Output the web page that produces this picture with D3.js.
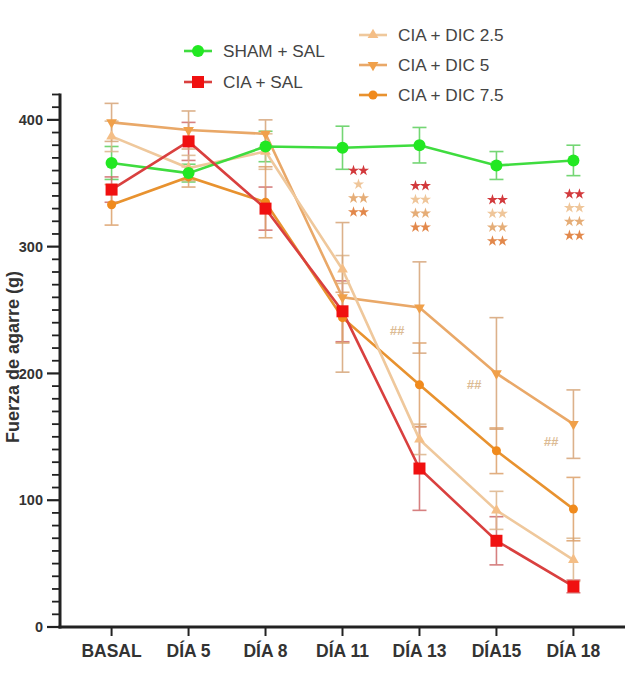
<!DOCTYPE html>
<html>
<head>
<meta charset="utf-8">
<script src="https://cdn.jsdelivr.net/npm/d3@7"></script>
<style>
  html, body { margin: 0; padding: 0; background: #fff; }
  svg { display: block; }
</style>
</head>
<body>
<svg id="chart" width="626" height="677"></svg>
<script>
// Time points
const categories = ["BASAL", "DÍA 5", "DÍA 8", "DÍA 11", "DÍA 13", "DÍA15", "DÍA 18"];

// Grip strength means (g) and SEM per group
const shamSal    = [366, 358, 379, 378, 380, 364, 368];
const shamSalErr = [13, 7, 12, 17, 14, 11, 12];
const ciaSal     = [345, 383, 330, 249, 125, 68, 32];
const ciaSalErr  = [10, 15, 17, 24, 33, 19, 5];
const dic25      = [387, 362, 375, 282, 148, 92, 53];
const dic25Err   = [12, 10, 14, 11, 12, 15, 17];
const dic5       = [398, 392, 389, 260, 252, 200, 160];
const dic5Err    = [15, 15, 11, 59, 36, 44, 27];
const dic75      = [333, 355, 335, 244, 191, 139, 93];
const dic75Err   = [16, 8, 28, 20, 33, 18, 25];

// Y axis ticks
const yMajorTicks = [0, 100, 200, 300, 400];

// Significance marks (rows of stars under each day; level = top row in g)
const starDays   = ["DÍA 11", "DÍA 13", "DÍA15", "DÍA 18"];
const starLevels = [360, 348, 337, 341.5];
const starCounts = [[2, 1, 2, 2], [2, 2, 2, 2], [2, 2, 2, 2], [2, 2, 2, 2]];
// "##" marks: [between days, value]
const hashMarks = [["DÍA 11", "DÍA 13", 234], ["DÍA 13", "DÍA15", 191.5], ["DÍA15", "DÍA 18", 146]];

const series = [
  { name: "SHAM + SAL",   values: shamSal, err: shamSalErr, line: "#3fdc3f", fill: "#22e822", errColor: "#5ccf5c", symbol: "circle", size: 12 },
  { name: "CIA + SAL",    values: ciaSal,  err: ciaSalErr,  line: "#d9403f", fill: "#f01010", errColor: "#cf6a6a", symbol: "square", size: 12 },
  { name: "CIA + DIC 2.5", values: dic25,  err: dic25Err,   line: "#efc89c", fill: "#f4be86", errColor: "#dcb48a", symbol: "triUp", size: 10 },
  { name: "CIA + DIC 5",  values: dic5,    err: dic5Err,    line: "#e9a868", fill: "#f0a04a", errColor: "#d6a477", symbol: "triDown", size: 10 },
  { name: "CIA + DIC 7.5", values: dic75,  err: dic75Err,   line: "#e8922f", fill: "#f08a1c", errColor: "#dca06a", symbol: "circle", size: 9 }
];
const starColors = ["#d2393c", "#efc69a", "#e5ad77", "#e2884b"];

const svg = d3.select("#chart");
const x = d3.scalePoint().domain(categories).range([60, 625]).padding(0.67);
const y = d3.scaleLinear().domain([0, 420]).range([627, 94.5]);

// Y axis with minor ticks every 10
const yMinor = d3.range(0, 421, 10);
svg.append("g").selectAll("line").data(yMinor).join("line")
  .attr("x1", d => yMajorTicks.includes(d) ? 47 : 52).attr("x2", 60)
  .attr("y1", d => y(d)).attr("y2", d => y(d))
  .attr("stroke", "#222").attr("stroke-width", d => yMajorTicks.includes(d) ? 2.2 : 1.8);
svg.append("line").attr("x1", 60).attr("x2", 60).attr("y1", y(420) - 1).attr("y2", y(0) + 1.5)
  .attr("stroke", "#222").attr("stroke-width", 3);
svg.append("g").selectAll("text").data(yMajorTicks).join("text")
  .attr("x", 43).attr("y", d => y(d)).attr("dy", "0.36em")
  .attr("text-anchor", "end")
  .attr("font-family", "Liberation Sans, Arial, sans-serif").attr("font-weight", "bold")
  .attr("font-size", 14.5).attr("fill", "#333").text(d => d);

// X axis
svg.append("line").attr("x1", 58.5).attr("x2", 625).attr("y1", y(0)).attr("y2", y(0))
  .attr("stroke", "#222").attr("stroke-width", 3);
svg.append("g").selectAll("line").data(categories).join("line")
  .attr("x1", d => x(d)).attr("x2", d => x(d)).attr("y1", y(0)).attr("y2", y(0) + 9)
  .attr("stroke", "#222").attr("stroke-width", 2);
svg.append("g").selectAll("text").data(categories).join("text")
  .attr("x", d => x(d)).attr("y", 657).attr("text-anchor", "middle")
  .attr("font-family", "Liberation Sans, Arial, sans-serif").attr("font-weight", "bold")
  .attr("font-size", 17.5).attr("fill", "#333").text(d => d);

// Y axis title
svg.append("text")
  .attr("transform", `translate(19, ${357}) rotate(-90)`)
  .attr("text-anchor", "middle")
  .attr("font-family", "Liberation Sans, Arial, sans-serif").attr("font-weight", "bold")
  .attr("font-size", 18).attr("fill", "#333").text("Fuerza de agarre (g)");

// Marker symbol builder
function symbolPath(kind, size) {
  if (kind === "square") return d3.symbol(d3.symbolSquare, size * size)();
  if (kind === "circle") return d3.symbol(d3.symbolCircle, Math.PI * (size / 2) ** 2)();
  if (kind === "triUp") return d3.symbol(d3.symbolTriangle, size * size * 0.5)();
  if (kind === "triDown") return d3.symbol(d3.symbolTriangle, size * size * 0.5)();
}
function symbolRotate(kind) { return kind === "triDown" ? " rotate(180)" : ""; }

// Error bars
series.forEach(s => {
  const g = svg.append("g").attr("opacity", 0.85);
  s.values.forEach((v, i) => {
    const cx = x(categories[i]);
    const top = y(v + s.err[i]), bot = y(v - s.err[i]);
    g.append("line").attr("x1", cx).attr("x2", cx).attr("y1", top).attr("y2", bot)
      .attr("stroke", s.errColor).attr("stroke-width", 1.6);
    [top, bot].forEach(yy => g.append("line").attr("x1", cx - 7).attr("x2", cx + 7)
      .attr("y1", yy).attr("y2", yy).attr("stroke", s.errColor).attr("stroke-width", 1.6));
  });
});

// Lines
const lineGen = d3.line().x((d, i) => x(categories[i])).y(d => y(d));
[4, 3, 2, 0, 1].forEach(k => {
  const s = series[k];
  svg.append("path").datum(s.values).attr("d", lineGen)
    .attr("fill", "none").attr("stroke", s.line).attr("stroke-width", 2.6);
});

// Markers
[4, 3, 2, 0, 1].forEach(k => {
  const s = series[k];
  svg.append("g").selectAll("path").data(s.values).join("path")
    .attr("d", symbolPath(s.symbol, s.size))
    .attr("transform", (d, i) => `translate(${x(categories[i])},${y(d)})` + symbolRotate(s.symbol))
    .attr("fill", s.fill);
});

// Significance stars
const star = d3.symbol(d3.symbolStar, 38)();
starDays.forEach((day, j) => {
  const cx = x(day) + (j === 0 ? 16 : 1);
  const y0 = y(starLevels[j]);
  starCounts[j].forEach((n, r) => {
    const yy = y0 + r * 13.8;
    const offs = n === 2 ? [-5, 5] : [0];
    offs.forEach(o => svg.append("path").attr("d", star)
      .attr("transform", `translate(${cx + o},${yy})`).attr("fill", starColors[r]));
  });
});

// "##" marks
hashMarks.forEach(([a, b, v]) => {
  svg.append("text")
    .attr("x", (x(a) + x(b)) / 2 + 16).attr("y", y(v)).attr("dy", "0.35em")
    .attr("text-anchor", "middle")
    .attr("font-family", "Liberation Sans, Arial, sans-serif").attr("font-style", "italic")
    .attr("font-weight", "bold")
    .attr("font-size", 13).attr("fill", "#dcbb94").text("##");
});

// Legend
const legendPos = [[184, 51], [184, 82], [359, 35], [359, 65], [359, 95]];
series.forEach((s, k) => {
  const [lx, ly] = legendPos[k];
  const g = svg.append("g").attr("transform", `translate(${lx},${ly})`);
  g.append("line").attr("x1", 0).attr("x2", 28).attr("stroke", s.line).attr("stroke-width", 2.6);
  g.append("path").attr("d", symbolPath(s.symbol, s.size))
    .attr("transform", "translate(14,0)" + symbolRotate(s.symbol)).attr("fill", s.fill);
  g.append("text").attr("x", 39).attr("dy", "0.36em")
    .attr("font-family", "Liberation Sans, Arial, sans-serif")
    .attr("font-size", 17.2).attr("fill", "#444").text(s.name);
});
</script>
</body>
</html>
